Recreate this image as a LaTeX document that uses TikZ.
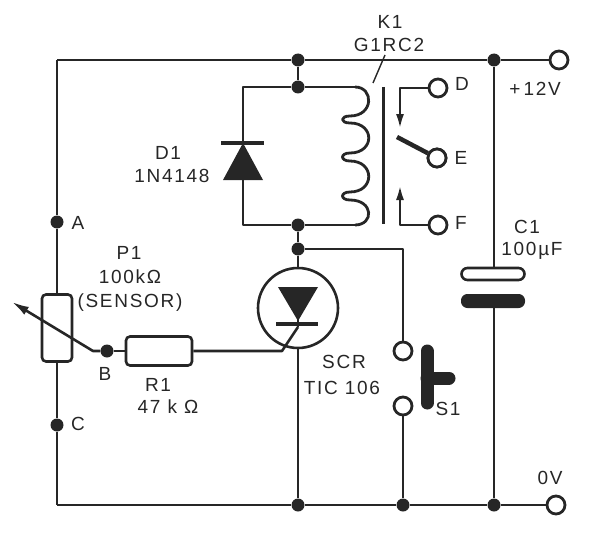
\documentclass[tikz,border=0pt]{standalone}
\usepackage{fontspec}
\setmainfont[LetterSpace=9]{Liberation Sans}
\usepackage{tikz}
\usetikzlibrary{arrows.meta}
\tikzset{
    wire/.style = {draw=black!85, line width=2.6pt, line join=round},
    dot-node/.style = {circle, fill=black!85, inner sep=0pt, minimum size=13pt},
    term-node/.style = {circle, draw=black!85, fill=white, line width=2.8pt, inner sep=0pt, minimum size=18pt},
    part-label/.style = {font=\fontsize{19}{21}\selectfont, inner sep=0pt, text=black!85},
    solid-part/.style = {fill=black!85, draw=black!85, line width=1pt, line join=round},
    open-part/.style = {draw=black!85, fill=white, line width=2.6pt, rounded corners=4pt},
    tip-wire/.style = {wire, -{Latex[length=15pt,width=8pt]}},
}
\begin{document}
\begin{tikzpicture}[x=1pt,y=-1pt]
\useasboundingbox (0,0) rectangle (600,535);
% corners of the wiring
\coordinate (rail-tl) at (57,60);
\coordinate (rail-bl) at (57,505);
\coordinate (coil-tl) at (243,87);
\coordinate (coil-bl) at (243,225);
\coordinate (coil-tr) at (355,87);
\coordinate (coil-br) at (355,225);
\coordinate (sw-corner) at (403,249);
\coordinate (gate-bend) at (282,351);
\coordinate (gate-end) at (298,327);
\coordinate (wiper-bend) at (93,351);
\coordinate (wiper-tip) at (12,302);
\coordinate (diode-bar) at (243,143);
\coordinate (diode-base) at (243,180);
\coordinate (core-top) at (383,87);
\coordinate (core-bot) at (383,224);
\coordinate (leader-a) at (385,55);
\coordinate (leader-b) at (373,83);
\coordinate (d-bend) at (400,88);
\coordinate (d-end) at (400,129);
\coordinate (f-bend) at (400,225);
\coordinate (f-end) at (400,185);
\coordinate (arm-end) at (397,137);

% junctions and terminals
\node [dot-node] (top-a) at (298,60) {};
\node [dot-node] (top-b) at (298,87) {};
\node [dot-node] (top-c) at (494,60) {};
\node [dot-node] (mid-a) at (298,225) {};
\node [dot-node] (mid-b) at (298,249) {};
\node [dot-node] (pot-a) at (57,222) {};
\node [dot-node] (pot-c) at (57,425) {};
\node [dot-node] (pot-b) at (107,351) {};
\node [dot-node] (bot-a) at (298,505) {};
\node [dot-node] (bot-b) at (403,505) {};
\node [dot-node] (bot-c) at (494,505) {};
\node [term-node] (plus-t) at (559,60) {};
\node [term-node] (zero-t) at (556,505) {};
\node [term-node] (d-t) at (438,88) {};
\node [term-node] (e-t) at (437,158) {};
\node [term-node] (f-t) at (438,225) {};
\node [term-node] (sw-a) at (403,351) {};
\node [term-node] (sw-b) at (403,406) {};

% parts with a body
\node [open-part, minimum width=30pt, minimum height=67pt, inner sep=0pt] (pot) at (57,328) {};
\node [open-part, minimum width=66pt, minimum height=29pt, inner sep=0pt] (res) at (159,351) {};
\node [open-part, rounded corners=6pt, minimum width=63pt, minimum height=12pt, inner sep=0pt] (cap-a) at (493,274) {};
\node [solid-part, rounded corners=6pt, minimum width=63pt, minimum height=13pt, inner sep=0pt] (cap-b) at (493,301) {};
\node [circle, draw=black!85, line width=2.6pt, minimum size=80pt, inner sep=0pt] (scr) at (298,308) {};

% wiring
\draw [wire] (rail-tl) -- (top-a) -- (top-c) -- (plus-t);
\draw [wire] (rail-bl) -- (bot-a) -- (bot-b) -- (bot-c) -- (zero-t);
\draw [wire] (rail-tl) -- (pot-a) -- (pot);
\draw [wire] (pot) -- (pot-c) -- (rail-bl);
\draw [wire] (top-a) -- (top-b);
\draw [wire] (coil-tr) -- (top-b) -- (coil-tl) -- (diode-bar);
\draw [wire] (diode-base) -- (coil-bl) -- (mid-a) -- (coil-br);
\draw [wire] (mid-a) -- (mid-b) -- (scr);
\draw [wire] (scr.south) -- (bot-a);
\draw [wire] (top-c) -- (top-c |- cap-a.north);
\draw [wire] (top-c |- cap-b.south) -- (bot-c);
\draw [wire] (mid-b) -- (sw-corner) -- (sw-a);
\draw [wire] (sw-b) -- (bot-b);
\draw [wire] (pot-b) -- (res);
\draw [wire] (res) -- (gate-bend) -- (gate-end);

% sensor wiper
\draw [wire, -{Latex[length=17pt,width=9pt]}] (pot-b) -- (wiper-bend) -- (wiper-tip);

% scr symbol
\draw [wire] (298,287) -- (298,327);
\fill [black!85] (278,287) -- (318,287) -- (298,321) -- cycle;
\draw [wire, line width=3.5pt] (276,324) -- (318,324);

% diode
\draw [wire, line width=3.5pt] (221,143) -- (264,143);
\fill [black!85] (diode-bar) -- (263,180) -- (223,180) -- cycle;

% coil
\draw [wire, line width=2.8pt] (coil-tr)
    .. controls (374,87) and (374,116) .. (350,116) .. controls (340,116) and (340,123) .. (350,123)
    .. controls (375,123) and (375,153) .. (350,153) .. controls (340,153) and (340,161) .. (350,161)
    .. controls (375,161) and (375,192) .. (350,192) .. controls (340,192) and (340,200) .. (350,200)
    .. controls (374,200) and (374,225) .. (coil-br);
\draw [wire, line width=3pt] (core-top) -- (core-bot);
\draw [wire, line width=1.4pt] (leader-a) -- (leader-b);

% relay contacts
\draw [tip-wire] (d-t) -- (d-bend) -- (d-end);
\draw [tip-wire] (f-t) -- (f-bend) -- (f-end);
\draw [wire, line width=4.5pt] (arm-end) -- (e-t);
\node [term-node] at (e-t) {};

% push button
\coordinate (btn-top) at (427,351);
\coordinate (btn-bot) at (427,403);
\coordinate (btn-mid) at (427,378);
\coordinate (btn-end) at (449,378);
\draw [wire, line width=13pt, line cap=round] (btn-top) -- (btn-bot);
\draw [wire, line width=13pt, line cap=round] (btn-mid) -- (btn-end);

% labels
\node [part-label] (k1-a) at (390,22) {K1};
\node [part-label] (k1-b) at (389,45) {G1RC2};
\node [part-label] (d-l) at (462,84) {D};
\node [part-label] (e-l) at (461,158) {E};
\node [part-label] (f-l) at (461,223) {F};
\node [part-label] (plus-l) at (535,89) {+\,12V};
\node [part-label] (d1-a) at (168,153) {D1};
\node [part-label] (d1-b) at (172,176) {1N4148};
\node [part-label] (a-l) at (78,223) {A};
\node [part-label] (b-l) at (105,374) {B};
\node [part-label] (c-l) at (78,424) {C};
\node [part-label] (p1-a) at (129,253) {P1};
\node [part-label] (p1-b) at (130,277) {100kΩ};
\node [part-label] (p1-c) at (130,303) {(SENSOR)};
\node [part-label] (r1-a) at (158,385) {R1};
\node [part-label] (r1-b) at (168,407) {47 k Ω};
\node [part-label] (scr-a) at (344,362) {SCR};
\node [part-label] (scr-b) at (342,388) {TIC 106};
\node [part-label] (s1-l) at (448,409) {S1};
\node [part-label] (c1-a) at (527,227) {C1};
\node [part-label] (c1-b) at (532,251) {100µF};
\node [part-label] (zero-l) at (550,478) {0V};
\end{tikzpicture}
\end{document}
